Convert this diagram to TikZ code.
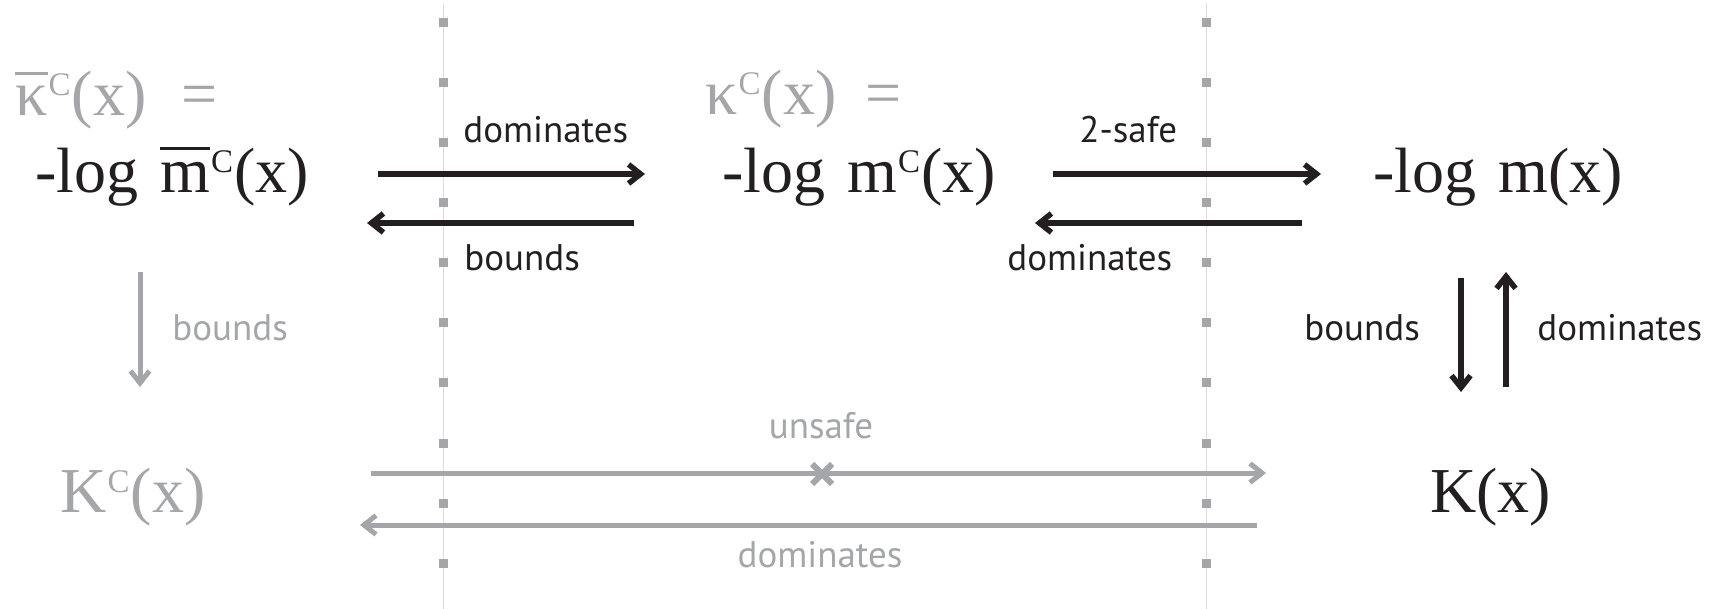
\documentclass[tikz,border=0pt]{standalone}
\usepackage{fontspec}
\setmainfont{Liberation Serif}
\newfontfamily\labfont{PT Sans}
\usetikzlibrary{arrows.meta}
\definecolor{ink}{HTML}{231F20}
\definecolor{midgray}{HTML}{A4A6A9}
\definecolor{linegray}{HTML}{DCDDDE}
\newcommand\barover[2]{\setbox0\hbox{#2}\rlap{\raisebox{#1}{\rule{\wd0}{1.5pt}}}\box0}
\newcommand\supC{\raisebox{10pt}{\fontsize{16.5}{18}\selectfont\hspace{0.03em}C\hspace{0.04em}}}
\newcommand\wsp{\hspace{0.34em}}
\tikzset{
  mt/.style={anchor=base west, inner sep=0pt, font=\fontsize{32}{36}\selectfont, text=ink},
  gmt/.style={mt, text=midgray},
  lab/.style={anchor=base west, inner sep=0pt, font=\labfont\fontsize{18.5}{22}\selectfont, text=ink},
  glab/.style={lab, text=midgray},
  arr/.style={line width=2.75pt, draw=ink, line cap=butt, -{Straight Barb[length=6pt,width=9.5pt,line join=miter,line cap=butt]}},
  garr/.style={arr, draw=midgray, line width=2.5pt},
  gridline/.style={draw=linegray, line width=0.75pt},
  sq/.style={fill=midgray},
  xmark/.style={draw=midgray, line width=3pt, line cap=butt},
}
\begin{document}
\begin{tikzpicture}[x=0.5pt,y=-0.5pt]
\path[use as bounding box] (0,0) rectangle (1709,609);
% dotted guide lines
\foreach \gx in {443.6,1206.5}{
  \draw[gridline] (\gx,3) -- (\gx,609);
  \foreach \k in {0,...,9}{
    \fill[sq] (\gx-4.5,23+60*\k-4.5) rectangle ++(9,9);
  }
}
% formulas
\node[gmt] (kbar) at (15,116) {\barover{20.5pt}{κ}\supC(x)\hspace{0.55em}=};
\node[mt] (lmbar) at (35,193) {-log\wsp\barover{21.5pt}{m}\supC(x)};
\node[gmt] (kap) at (705,115) {κ\supC(x)\hspace{0.45em}=};
\node[mt] (lmc) at (722,193) {-log\wsp m\supC(x)};
\node[mt] (lm) at (1373,193) {-log\wsp m(x)};
\node[gmt] (KC) at (60,512) {K\supC(x)};
\node[mt] (K) at (1430,512) {K(x)};
% labels
\node[lab] (l1) at (463,143) {dominates};
\node[lab] (l2) at (464,271) {bounds};
\node[lab] (l3) at (1079,143) {2-safe};
\node[lab] (l4) at (1007,271) {dominates};
\node[lab] (l5) at (1304,341) {bounds};
\node[lab] (l6) at (1537,341) {dominates};
\node[glab] (l7) at (172,341) {bounds};
\node[glab, anchor=base] (l8) at (821,438) {unsafe};
\node[glab, anchor=base] (l9) at (820,567) {dominates};
% arrow end points
\coordinate (a1s) at (378,174);  \coordinate (a1e) at (645,174);
\coordinate (a2s) at (634,223);  \coordinate (a2e) at (367,223);
\coordinate (a3s) at (1053,174); \coordinate (a3e) at (1321,174);
\coordinate (a4s) at (1302,223); \coordinate (a4e) at (1035,223);
\coordinate (a5s) at (1461,278); \coordinate (a5e) at (1461,392);
\coordinate (a6s) at (1506,387); \coordinate (a6e) at (1506,272);
\coordinate (a7s) at (140,272);  \coordinate (a7e) at (140,387);
\coordinate (a8s) at (371,473);  \coordinate (a8e) at (1266,473);
\coordinate (a9s) at (1257,525); \coordinate (a9e) at (360,525);
\coordinate (cross) at (822,474);
\draw[arr] (a1s) -- (a1e);
\draw[arr] (a2s) -- (a2e);
\draw[arr] (a3s) -- (a3e);
\draw[arr] (a4s) -- (a4e);
\draw[arr] (a5s) -- (a5e);
\draw[arr] (a6s) -- (a6e);
\draw[garr] (a7s) -- (a7e);
\draw[garr] (a8s) -- (a8e);
\draw[garr] (a9s) -- (a9e);
\draw[xmark] ([shift={(-10,-10)}]cross) -- ([shift={(10,10)}]cross);
\draw[xmark] ([shift={(-10,10)}]cross) -- ([shift={(10,-10)}]cross);
\end{tikzpicture}
\end{document}
